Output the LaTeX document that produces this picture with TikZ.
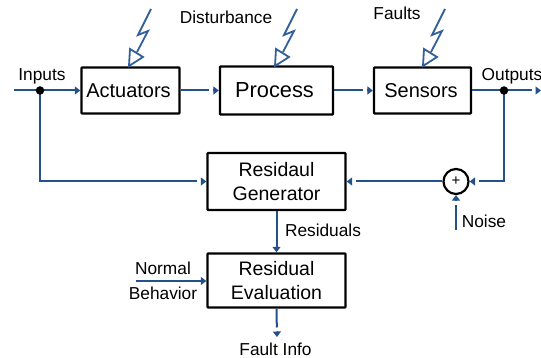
\documentclass[tikz,border=0pt]{standalone}
\usepackage{fontspec}
\setmainfont{Liberation Sans}
\usetikzlibrary{arrows.meta}

\tikzset{
  block/.style={draw=black, line width=2.4pt, rounded corners=0.8pt, align=center, inner sep=0pt},
  label/.style={font=\fontsize{17.3}{20}\selectfont, inner sep=0pt, anchor=base},
  flow/.style={draw=flowblue, line width=2pt, -{Triangle[length=5.5pt,width=8pt]}},
  flowgap/.style={draw=flowblue, line width=2pt, -{Rectangle[white,length=4pt,width=4pt] Triangle[length=5.5pt,width=8pt]}},
  joint/.style={circle, fill=black, minimum size=8.5pt, inner sep=0pt},
  bolt/.style={draw=boltblue, line width=1.8pt}
}
\definecolor{flowblue}{HTML}{23528A}
\definecolor{boltblue}{HTML}{33609A}

\begin{document}
\begin{tikzpicture}[x=1pt,y=-1pt]
\clip (0,0) rectangle (541,358);

% Blocks
\node[block, minimum width=98pt, minimum height=46pt, font=\fontsize{20}{24}\selectfont] (actuators) at (130.5,90.5) {\hspace*{-4pt}\raisebox{-1.5pt}{Actuators}};
\node[block, minimum width=113pt, minimum height=48pt, font=\fontsize{21.8}{26}\selectfont] (process) at (276.5,90.5) {\hspace*{-4pt}\raisebox{0.5pt}{Process}};
\node[block, minimum width=97pt, minimum height=46pt, font=\fontsize{20}{24}\selectfont] (sensors) at (422.5,90.5) {\hspace*{-3pt}\raisebox{-1.5pt}{Sensors}};
\node[block, minimum width=138pt, minimum height=57pt, font=\fontsize{19.5}{23.5}\selectfont] (generator) at (276.5,181.5) {Residaul\\Generator};
\node[block, minimum width=138pt, minimum height=54pt, font=\fontsize{19.5}{23.5}\selectfont] (evaluation) at (276.5,280.5) {Residual\\Evaluation};
\node[draw=black, line width=2.2pt, circle, minimum size=25pt, inner sep=0pt, font=\fontsize{15}{15}\selectfont] (sum) at (456,181.5) {+};

% Junctions
\coordinate (injoint) at (40,90.5);
\coordinate (outjoint) at (504,90.5);

% Free ends
\coordinate (inputs) at (14,90.5);
\coordinate (outputs) at (541,90.5);
\coordinate (noise) at (456,230);
\coordinate (normal) at (136,281);
\coordinate (faultinfo) at (277,337);

% Main line
\draw[flow] (inputs) -- (actuators.west);
\draw[flowgap] (actuators.east) -- (process.west);
\draw[flowgap] (process.east) -- (sensors.west);
\draw[flowgap] (sensors.east) -- (outputs);

% Feedback
\draw[flowgap] (injoint) |- (generator.west);
\draw[flowgap] (outjoint) |- (sum.east);
\draw[flowgap] (sum.west) -- (generator.east);
\draw[flowgap] (noise) -- (sum.south);

% Evaluation
\draw[flow] (generator.south) -- (evaluation.north);
\draw[flow] (normal) -- (evaluation.west |- normal);
\draw[flowgap] (evaluation.south) -- (faultinfo);

% Junction dots
\node[joint] (indot) at (injoint) {};
\node[joint] (outdot) at (outjoint) {};

% Lightning bolts
\foreach \dx in {0,146,294} {
  \draw[bolt, line join=miter] (151+\dx,9) -- (138+\dx,35) -- (148+\dx,31) -- (137+\dx,52);
  \draw[bolt, line join=miter] (130+\dx,49) -- (143+\dx,57) -- (129+\dx,66) -- cycle;
}

% Labels
\node[label] (inputslabel) at (42,81) {Inputs};
\node[label] (outputslabel) at (512,81) {Outputs};
\node[label] (disturbancelabel) at (226,24) {Disturbance};
\node[label] (faultslabel) at (397,20) {Faults};
\node[label] (residualslabel) at (323,237) {Residuals};
\node[label] (noiselabel) at (484,228) {Noise};
\node[label] (normallabel) at (163,275) {Normal};
\node[label] (behaviorlabel) at (163,299) {Behavior};
\node[label] (faultinfolabel) at (275.5,355) {Fault Info};

\end{tikzpicture}
\end{document}
